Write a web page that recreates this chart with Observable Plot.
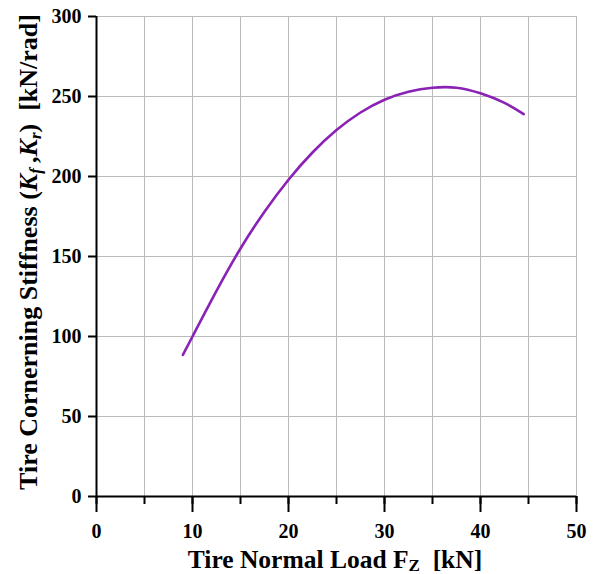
<!DOCTYPE html>
<html>
<head>
<meta charset="utf-8">
<script src="https://cdn.jsdelivr.net/npm/d3@7"></script>
<script src="https://cdn.jsdelivr.net/npm/@observablehq/plot@0.6"></script>
<style>
  html, body { margin: 0; padding: 0; background: #fff; }
  #chart svg { display: block; }
  #chart svg text { font-family: 'Liberation Serif', 'Times New Roman', serif; font-weight: bold; }
</style>
</head>
<body>
<div id="chart"></div>
<script>
// Tire normal load Fz [kN]
const loadKN = [9, 10, 12.5, 15, 17.5, 20, 22.5, 25, 27.5, 30, 32.5, 35, 37.5, 40, 42.5, 44.5];
// Cornering stiffness [kN/rad]
const stiffness = [88.5, 100, 128.5, 155, 178, 198, 215, 229, 240, 248, 253, 255.5, 255.5, 252, 246, 239];

const xMinorTicks = [0, 5, 10, 15, 20, 25, 30, 35, 40, 45, 50];
const xMajorTicks = [0, 10, 20, 30, 40, 50];
const yTicks = [0, 50, 100, 150, 200, 250, 300];

const data = loadKN.map((x, i) => ({x, y: stiffness[i]}));

const font = "'Liberation Serif', 'Times New Roman', serif";

const chart = Plot.plot({
  width: 595,
  height: 574,
  marginLeft: 96,
  marginRight: 19,
  marginTop: 16,
  marginBottom: 78,
  style: {fontFamily: font, fontSize: "20px", fontWeight: "bold", color: "#000", background: "#fff"},
  x: {domain: [0, 50]},
  y: {domain: [0, 300]},
  marks: [
    Plot.gridX(xMinorTicks, {stroke: "#bbb", strokeOpacity: 1, strokeWidth: 1}),
    Plot.gridY(yTicks, {stroke: "#bbb", strokeOpacity: 1, strokeWidth: 1}),
    Plot.axisX(xMinorTicks, {tickSize: 8, text: null, stroke: "#000", strokeWidth: 2, label: null}),
    Plot.axisX(xMajorTicks, {tickSize: 16, tickPadding: 11, stroke: "#000", strokeWidth: 2, label: null, fontSize: 20, fontWeight: "bold", fontFamily: font}),
    Plot.axisY(yTicks, {tickSize: 8, tickPadding: 7, stroke: "#000", strokeWidth: 2, label: null, fontSize: 20, fontWeight: "bold", fontFamily: font}),
    Plot.ruleY([0], {stroke: "#000", strokeWidth: 2}),
    Plot.ruleX([0], {stroke: "#000", strokeWidth: 2}),
    Plot.line(data, {x: "x", y: "y", curve: "natural", stroke: "#8a22b6", strokeWidth: 2.6})
  ]
});

document.getElementById("chart").appendChild(chart);

// Axis titles with italic / subscript parts
const svg = d3.select(chart);
const xt = svg.append("text")
  .attr("x", 335).attr("y", 568)
  .attr("text-anchor", "middle")
  .attr("font-family", font).attr("font-weight", "bold").attr("font-size", 25.5).attr("fill", "#000");
xt.append("tspan").text("Tire Normal Load F");
xt.append("tspan").attr("font-size", 17).attr("dy", 3).text("Z");
xt.append("tspan").attr("dy", -3).text("\u00a0\u00a0[kN]");

const yt = svg.append("text")
  .attr("transform", "translate(37,252) rotate(-90)")
  .attr("text-anchor", "middle")
  .attr("font-family", font).attr("font-weight", "bold").attr("font-size", 26).attr("fill", "#000");
yt.append("tspan").text("Tire Cornerning Stiffness (");
yt.append("tspan").attr("font-style", "italic").text("K");
yt.append("tspan").attr("font-style", "italic").attr("font-size", 17).attr("dy", 4).text("f");
yt.append("tspan").attr("dy", -4).text("\u2009,");
yt.append("tspan").attr("font-style", "italic").text("K");
yt.append("tspan").attr("font-style", "italic").attr("font-size", 17).attr("dy", 4).text("r");
yt.append("tspan").attr("dy", -4).text(")\u00a0\u00a0[kN/rad]");
</script>
</body>
</html>
